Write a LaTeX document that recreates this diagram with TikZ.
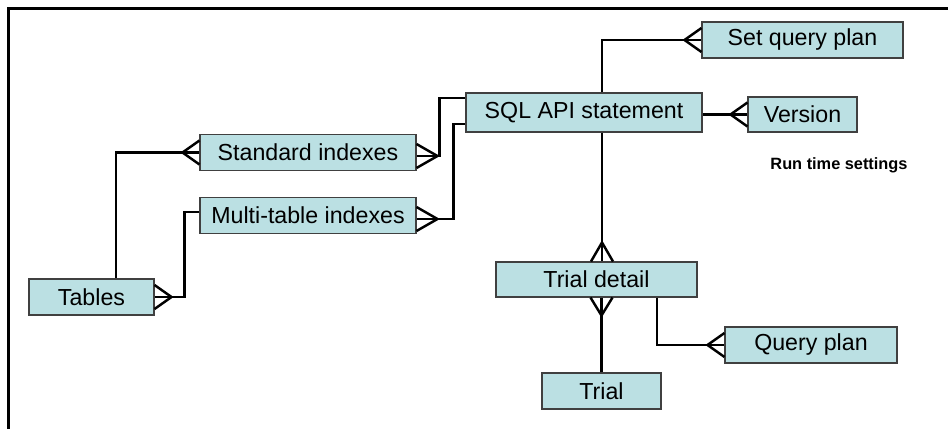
\documentclass[tikz,border=0pt]{standalone}
\usepackage{xcolor}
\usepackage{tikz}
\usepackage{fontspec}
\setmainfont{Liberation Sans}
\usetikzlibrary{positioning, calc}

\definecolor{entityfill}{RGB}{187,224,227}
\definecolor{entityline}{RGB}{64,64,64}

% crow's foot: horizontal (#2 = x offset of the meeting point) and vertical (#2 = y offset)
\newcommand{\crowh}[2]{\draw[link] ($(#1)+(#2,0)$) -- ($(#1)+(0,-12)$) ($(#1)+(#2,0)$) -- ($(#1)+(0,12)$);}
\newcommand{\crowv}[2]{\draw[link] ($(#1)+(0,#2)$) -- ($(#1)+(-11,0)$) ($(#1)+(0,#2)$) -- ($(#1)+(11,0)$);}

\begin{document}
\begin{tikzpicture}[
    x=0.02cm, y=-0.02cm,
    entity/.style={
        rectangle, fill=entityfill, draw=entityline, line width=0.6pt,
        minimum height=0.72cm, inner sep=0pt, text centered,
        font=\fontsize{13.2}{15}\selectfont
    },
    link/.style={line width=1.4pt, black}
]
    \useasboundingbox (0,0) rectangle (948,429);
    \draw[line width=1.7pt] (948,8.5) -- (8.5,8.5) -- (8.5,429);

    \node[entity, minimum width=4.32cm] (std)     at (308,152.5) {Standard indexes};
    \node[entity, minimum width=4.32cm] (multi)   at (308,215.5) {Multi-table indexes};
    \node[entity, minimum width=2.50cm] (tables)  at (91.5,297)  {Tables};
    \node[entity, minimum width=4.72cm, minimum height=0.78cm] (sql) at (584,112.5) {SQL API statement};
    \node[entity, minimum width=4.02cm] (setq)    at (802.5,40)  {Set query plan};
    \node[entity, minimum width=2.18cm, minimum height=0.70cm] (version) at (802.5,114.5) {Version};
    \node[font=\bfseries\fontsize{9.3}{11}\selectfont] (rts) at (839,165) {Run time settings};
    \node[entity, minimum width=4.02cm, minimum height=0.70cm] (trdet) at (596.5,279.5) {Trial detail};
    \node[entity, minimum width=3.44cm] (qplan)   at (811,345)   {Query plan};
    \node[entity, minimum width=2.38cm] (trial)   at (601.5,391) {Trial};

    \coordinate (tabN)   at ($(tables.north)+(24.5,0)$);
    \coordinate (multiW) at ($(multi.west)+(0,-3.5)$);
    \coordinate (stdE)   at ($(std.east)+(0,3.5)$);
    \coordinate (multiE) at ($(multi.east)+(0,3.5)$);
    \coordinate (sqlW1)  at ($(sql.west)+(0,-14.5)$);
    \coordinate (sqlW2)  at ($(sql.west)+(0,11.5)$);
    \coordinate (sqlN)   at ($(sql.north)+(18,0)$);
    \coordinate (sqlS)   at ($(sql.south)+(18,0)$);
    \coordinate (trdetQ) at ($(trdet.south)+(60.5,0)$);

    % left side
    \draw[link] (tabN) |- (std.west);
    \crowh{std.west}{-17}
    \draw[link] (tables.east) -- ++(30,0) |- (multiW);
    \crowh{tables.east}{17}
    \draw[link] (stdE) -- ++(23,0) |- (sqlW1);
    \crowh{stdE}{21}
    \draw[link] (multiE) -- ++(37,0) |- (sqlW2);
    \crowh{multiE}{21}

    % run time settings
    \draw[link] (sqlN) |- (setq.west);
    \crowh{setq.west}{-17}
    \draw[link] (version.west) -- (version.west -| sql.east);
    \crowh{version.west}{-17}

    % trials
    \draw[link] (sqlS) -- (sqlS |- trdet.north);
    \crowv{sqlS |- trdet.north}{-19}
    \draw[link] (trial.north) -- (trial.north |- trdet.south);
    \crowv{trial.north |- trdet.south}{18}
    \draw[link] (trdetQ) |- (qplan.west);
    \crowh{qplan.west}{-17}
\end{tikzpicture}
\end{document}
